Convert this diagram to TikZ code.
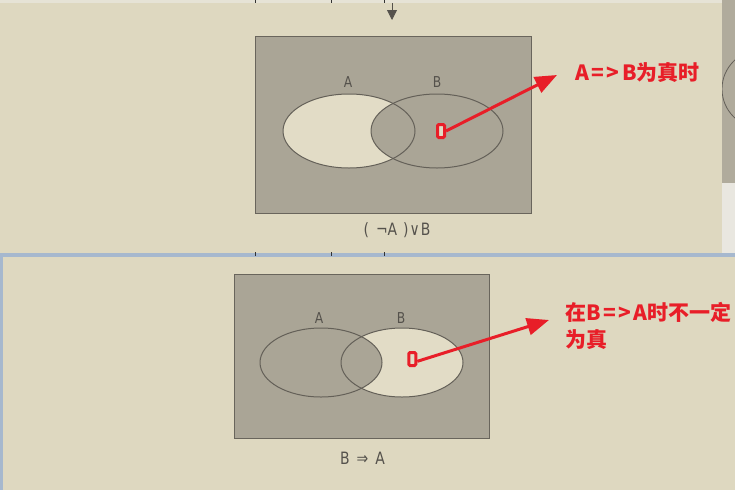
\documentclass[tikz,border=0pt]{standalone}
\usepackage{fontspec}
\usetikzlibrary{arrows.meta}
\newfontfamily\cjk{Noto Sans CJK SC}
\newfontfamily\bookfont{DejaVu Sans}[FakeStretch=0.82]
\definecolor{pagebg}{RGB}{222,216,192}
\definecolor{pagetop}{RGB}{230,227,214}
\definecolor{graybox}{RGB}{170,165,150}
\definecolor{lightregion}{RGB}{226,220,198}
\definecolor{boxedge}{RGB}{105,101,92}
\definecolor{vennline}{RGB}{100,96,88}
\definecolor{annred}{RGB}{232,30,40}
\definecolor{labeltext}{RGB}{85,82,76}
\definecolor{bluesep}{RGB}{166,184,206}
\definecolor{stripgray}{RGB}{176,171,156}
\definecolor{stripwhite}{RGB}{233,231,224}
\newcommand{\lk}{\kern2.5pt}
\begin{document}
\begin{tikzpicture}[x=1pt,y=-1pt,
  venn/.style={draw=vennline, line width=1pt},
  boxline/.style={draw=boxedge, line width=1pt, fill=graybox},
  marker/.style={draw=annred, line width=3pt, fill=lightregion, rounded corners=1.2pt,
    minimum width=7pt, minimum height=13pt, inner sep=0pt},
  redarrow/.style={draw=annred, line width=3pt, -{Triangle[length=22pt,width=17pt]}},
  annot/.style={text=annred, font=\cjk\bfseries\fontsize{21}{27}\selectfont,
    inner sep=0pt, anchor=west, align=left},
  setlabel/.style={text=labeltext, font=\bookfont\fontsize{15}{15}\selectfont, inner sep=0pt},
  caption/.style={text=labeltext, font=\bookfont\fontsize{17}{17}\selectfont, inner sep=0pt},
  tick/.style={draw=black!80, line width=0.6pt}
]
\useasboundingbox (0,0) rectangle (735,490);
% ---------- backgrounds ----------
\fill[pagetop] (0,0) rectangle (735,3);
\fill[pagebg] (0,3) rectangle (722,253);
\fill[stripgray] (722,0) rectangle (735,183);
\fill[stripwhite] (722,183) rectangle (735,253);
\begin{scope}
  \clip (722,0) rectangle (735,183);
  \draw[vennline, line width=0.8pt] (761,89) circle [radius=39];
\end{scope}
\fill[bluesep] (0,253) rectangle (735,256.5);
\fill[pagebg] (3,256.5) rectangle (735,490);
\fill[bluesep] (0,256.5) rectangle (3,490);
\foreach \tx in {255,331,384}{
  \draw[tick] (\tx,0) -- (\tx,3);
  \draw[tick] (\tx,252) -- (\tx,256);
}
% small arrow at the top
\coordinate (topA) at (392,3);
\coordinate (topB) at (392,20);
\draw[draw=labeltext, line width=0.8pt, -{Triangle[length=10pt,width=10pt]}] (topA) -- (topB);
% ---------- top diagram: (not A) or B ----------
\draw[boxline] (255.5,36) rectangle (531,213);
\fill[lightregion] (349,131) ellipse [x radius=66, y radius=37];
\begin{scope}
  \clip (437,131) ellipse [x radius=66, y radius=37];
  \fill[graybox] (349,131) ellipse [x radius=66, y radius=37];
\end{scope}
\draw[venn] (349,131) ellipse [x radius=66, y radius=37];
\draw[venn] (437,131) ellipse [x radius=66, y radius=37];
\node[setlabel] (la1) at (348,82) {A};
\node[setlabel] (lb1) at (437,82) {B};
\node[caption] (cap1) at (397,230) {(\kern7pt¬A\kern6pt)\kern1pt∨\kern1pt B};
\node[marker] (m1) at (441,131) {};
\node[annot] (t1) at (575,73) {A\lk=\lk>\lk B为真时};
\coordinate (tip1) at (557,75);
\draw[redarrow] (m1.east) -- (tip1);
% ---------- bottom diagram: B => A ----------
\draw[boxline] (234,274) rectangle (489,438);
\fill[lightregion] (402,362.5) ellipse [x radius=61, y radius=34.5];
\begin{scope}
  \clip (321,362.5) ellipse [x radius=61, y radius=34.5];
  \fill[graybox] (402,362.5) ellipse [x radius=61, y radius=34.5];
\end{scope}
\draw[venn] (321,362.5) ellipse [x radius=61, y radius=34.5];
\draw[venn] (402,362.5) ellipse [x radius=61, y radius=34.5];
\node[setlabel] (la2) at (319,318) {A};
\node[setlabel] (lb2) at (401,318) {B};
\node[caption] (cap2) at (362.5,458) {B\kern7pt⇒\kern7pt A};
\node[marker] (m2) at (412.3,359) {};
\node[annot] (t2) at (565,326) {在B\lk=\lk>\lk A时不一定\\为真};
\coordinate (tip2) at (549,320);
\draw[redarrow] (m2.-25) -- (tip2);
\end{tikzpicture}
\end{document}
